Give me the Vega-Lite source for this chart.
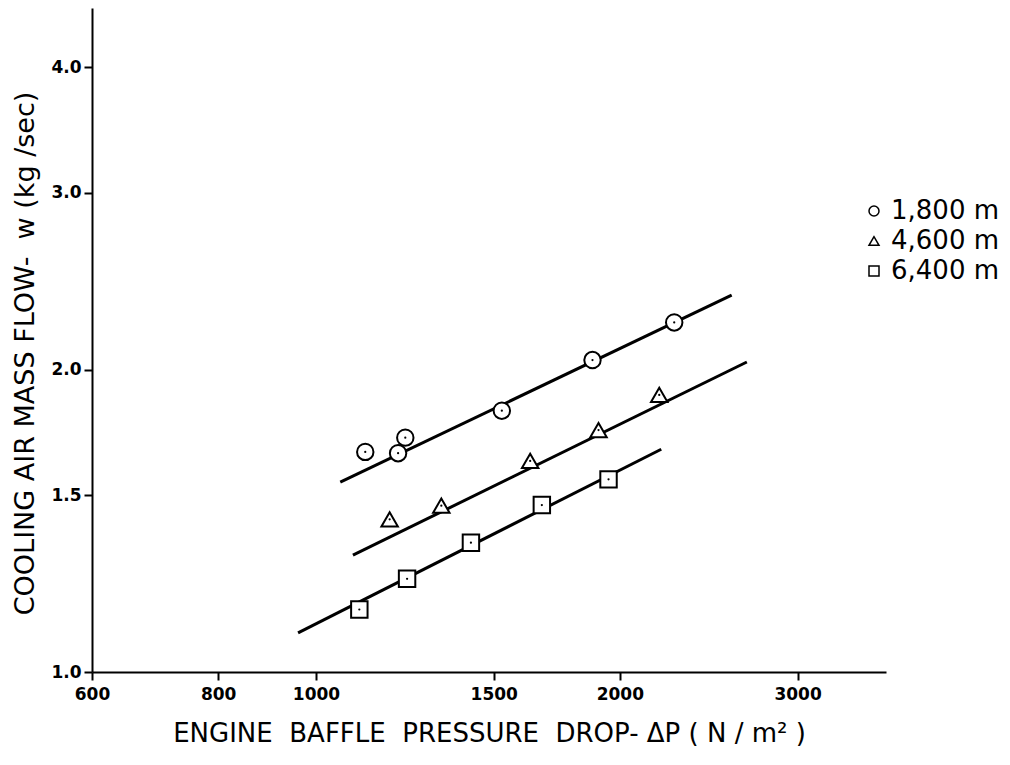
{
  "$schema": "https://vega.github.io/schema/vega-lite/v6.json",
  "autosize": "none",
  "width": 794,
  "height": 664,
  "padding": {"left": 92, "top": 8, "right": 124, "bottom": 93},
  "background": "white",
  "config": {
    "view": {"stroke": null},
    "font": "DejaVu Sans"
  },
  "datasets": {
    "pts": [
      {"dp": 1119, "w": 1.656, "alt": "1,800 m"},
      {"dp": 1206, "w": 1.651, "alt": "1,800 m"},
      {"dp": 1226, "w": 1.711, "alt": "1,800 m"},
      {"dp": 1528, "w": 1.820, "alt": "1,800 m"},
      {"dp": 1879, "w": 2.044, "alt": "1,800 m"},
      {"dp": 2264, "w": 2.228, "alt": "1,800 m"},
      {"dp": 1183, "w": 1.419, "alt": "4,600 m"},
      {"dp": 1331, "w": 1.464, "alt": "4,600 m"},
      {"dp": 1630, "w": 1.622, "alt": "4,600 m"},
      {"dp": 1905, "w": 1.741, "alt": "4,600 m"},
      {"dp": 2188, "w": 1.887, "alt": "4,600 m"},
      {"dp": 1104, "w": 1.154, "alt": "6,400 m"},
      {"dp": 1231, "w": 1.238, "alt": "6,400 m"},
      {"dp": 1424, "w": 1.345, "alt": "6,400 m"},
      {"dp": 1674, "w": 1.466, "alt": "6,400 m"},
      {"dp": 1949, "w": 1.555, "alt": "6,400 m"}
    ],
    "fits": [
      {"dp": 1057, "w": 1.545, "alt": "1,800 m"},
      {"dp": 2581, "w": 2.372, "alt": "1,800 m"},
      {"dp": 1088, "w": 1.307, "alt": "4,600 m"},
      {"dp": 2672, "w": 2.035, "alt": "4,600 m"},
      {"dp": 960, "w": 1.094, "alt": "6,400 m"},
      {"dp": 2198, "w": 1.666, "alt": "6,400 m"}
    ]
  },
  "encoding": {
    "x": {
      "field": "dp",
      "type": "quantitative",
      "scale": {"type": "log", "domain": [600, 3670], "nice": false},
      "axis": {
        "values": [600, 800, 1000, 1500, 2000, 3000],
        "format": "d",
        "title": "ENGINE\u00a0\u00a0BAFFLE\u00a0\u00a0PRESSURE\u00a0\u00a0DROP-\u00a0ΔP\u00a0(\u00a0N\u00a0/\u00a0m²\u00a0)",
        "titleFont": "DejaVu Sans",
        "titleFontSize": 26,
        "titleFontWeight": "normal",
        "titleColor": "black",
        "titlePadding": 18,
        "labelFont": "DejaVu Sans",
        "labelFontSize": 17,
        "labelFontWeight": "bold",
        "labelColor": "black",
        "labelPadding": 6,
        "labelFlush": false,
        "tickSize": 8,
        "tickColor": "black",
        "tickWidth": 2,
        "domainColor": "black",
        "domainWidth": 2,
        "grid": false
      }
    },
    "y": {
      "field": "w",
      "type": "quantitative",
      "scale": {"type": "log", "domain": [1, 4.58], "nice": false},
      "axis": {
        "values": [1, 1.5, 2, 3, 4],
        "format": ".1f",
        "title": "COOLING\u00a0AIR\u00a0MASS\u00a0FLOW-\u00a0\u00a0w\u00a0(kg\u00a0/sec)",
        "titleFont": "DejaVu Sans",
        "titleFontSize": 27,
        "titleFontWeight": "normal",
        "titleColor": "black",
        "titlePadding": 11,
        "titleY": 345,
        "labelFont": "DejaVu Sans",
        "labelFontSize": 17,
        "labelFontWeight": "bold",
        "labelColor": "black",
        "labelPadding": 3,
        "labelFlush": false,
        "tickSize": 8,
        "tickColor": "black",
        "tickWidth": 2,
        "domainColor": "black",
        "domainWidth": 2,
        "grid": false
      }
    }
  },
  "layer": [
    {
      "data": {"name": "fits"},
      "mark": {"type": "line", "color": "black", "strokeWidth": 3},
      "encoding": {"detail": {"field": "alt", "type": "nominal"}}
    },
    {
      "data": {"name": "pts"},
      "mark": {"type": "point", "filled": false, "color": "black", "fill": "white", "strokeWidth": 2, "size": 270, "opacity": 1},
      "encoding": {
        "shape": {
          "field": "alt",
          "type": "nominal",
          "scale": {"domain": ["1,800 m", "4,600 m", "6,400 m"], "range": ["circle", "triangle-up", "square"]},
          "legend": {
            "title": null,
            "orient": "none",
            "legendX": 769,
            "legendY": 190,
            "labelFont": "DejaVu Sans",
            "labelFontSize": 26,
            "labelColor": "black",
            "rowPadding": 4
          }
        }
      }
    },
    {
      "data": {"name": "pts"},
      "mark": {"type": "point", "shape": "circle", "filled": true, "color": "black", "size": 5, "opacity": 1}
    }
  ]
}
